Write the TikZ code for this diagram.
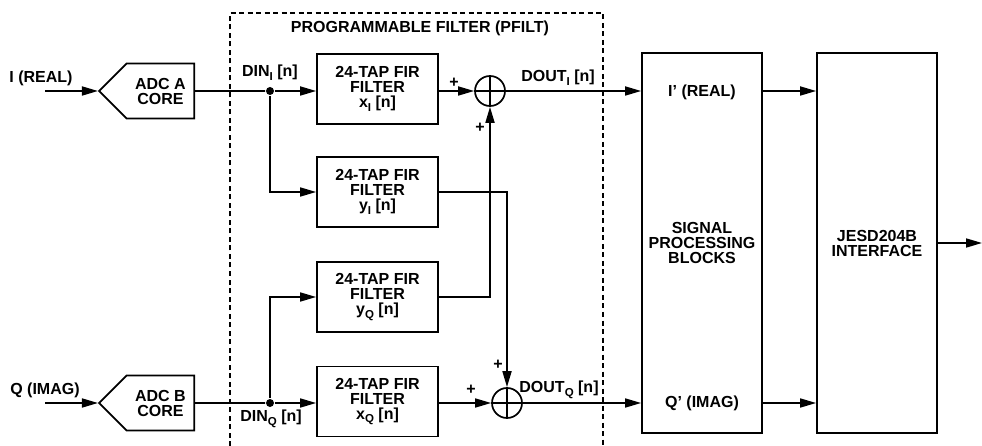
\documentclass[tikz,border=0pt]{standalone}
\usepackage{fontspec}
\setmainfont{Liberation Sans}
\usetikzlibrary{shapes.symbols, arrows.meta, positioning, calc}
\newcommand{\lowsub}[1]{\raisebox{-0.45ex}{\fontsize{11.5}{11}\selectfont #1}}

\begin{document}
\begin{tikzpicture}[
    x=1pt, y=-1pt, line width=1.7pt,
    every node/.style={font=\fontsize{16}{15}\selectfont\bfseries},
    adc/.style={signal, signal to=west, signal pointer angle=90, draw, anchor=east,
                minimum width=95pt, minimum height=55pt, align=center, inner sep=0pt},
    fir/.style={rectangle, draw, minimum width=121pt, minimum height=70pt,
                align=center, inner sep=0pt},
    blk/.style={rectangle, draw, minimum width=120pt, minimum height=380pt, align=center},
    sum/.style={circle, draw, minimum size=30pt, inner sep=0pt,
                path picture={\draw (path picture bounding box.north) -- (path picture bounding box.south)
                              (path picture bounding box.west) -- (path picture bounding box.east);}},
    dot/.style={circle, fill, minimum size=8pt, inner sep=0pt},
    txt/.style={align=center, inner sep=0pt},
    wire/.style={-{Triangle[length=16pt, width=9pt]}}
]
\useasboundingbox (0,0) rectangle (982,446);

\node[txt] (title) at (420,28) {PROGRAMMABLE FILTER (PFILT)};
\draw[dash pattern=on 5pt off 3.5pt] (230,446) -- (230,13) -- (603,13) -- (603,446);

\node[txt] (ilbl) at (41,78)  {I (REAL)};
\node[txt] (qlbl) at (45,390) {Q (IMAG)};
\coordinate (ini) at (45,91);
\coordinate (inq) at (45,403);
\node[adc] (adca) at (195,91)  {ADC A\\CORE};
\node[adc] (adcb) at (195,403) {ADC B\\CORE};

\node[dot] (dini) at (270,91)  {};
\node[dot] (dinq) at (270,403) {};
\node[txt] (dinilbl) at (270,73)  {DIN\lowsub{I} [n]};
\node[txt] (dinqlbl) at (271,419) {DIN\lowsub{Q} [n]};

\node[fir] (fxi) at (377.5,89)    {24-TAP FIR\\FILTER\\x\lowsub{I} [n]};
\node[fir] (fyi) at (377.5,192)   {24-TAP FIR\\FILTER\\y\lowsub{I} [n]};
\node[fir] (fyq) at (377.5,297)   {24-TAP FIR\\FILTER\\y\lowsub{Q} [n]};
\node[fir] (fxq) at (377.5,401.5) {24-TAP FIR\\FILTER\\x\lowsub{Q} [n]};

\node[sum] (sumi) at (490,91)  {};
\node[sum] (sumq) at (507,403) {};
\node[txt] (pia) at (454,83)  {+};
\node[txt] (pib) at (480,128) {+};
\node[txt] (pqa) at (498,365) {+};
\node[txt] (pqb) at (471,390) {+};
\node[txt] (doutilbl) at (558,78)  {DOUT\lowsub{I} [n]};
\node[txt] (doutqlbl) at (559,390) {DOUT\lowsub{Q} [n]};

\node[blk] (spb) at (702,243) {SIGNAL\\PROCESSING\\BLOCKS};
\node[txt] (iprime) at (702,92)  {I' (REAL)};
\node[txt] (qprime) at (702,403) {Q' (IMAG)};
\node[blk] (jesd) at (877,243) {JESD204B\\INTERFACE};
\coordinate (out) at (982,243);

\draw[wire] (ini) -- (adca);
\draw[wire] (inq) -- (adcb);
\draw (adca) -- (dini);
\draw (adcb) -- (dinq);
\draw[wire] (dini) -- (dini -| fxi.west);
\draw[wire] (dini) |- (fyi.west);
\draw[wire] (dinq) |- (fyq.west);
\draw[wire] (dinq) -- (dinq -| fxq.west);
\draw[wire] (fxi.east |- sumi) -- (sumi);
\draw[wire] (fxq.east |- sumq) -- (sumq);
\draw[wire] (fyi.east) -| (sumq.north);
\draw[wire] (fyq.east) -| (sumi.south);
\draw[wire] (sumi) -- (sumi -| spb.west);
\draw[wire] (sumq) -- (sumq -| spb.west);
\draw[wire] (spb.east |- sumi) -- (jesd.west |- sumi);
\draw[wire] (spb.east |- sumq) -- (jesd.west |- sumq);
\draw[wire] (jesd) -- (out);
\end{tikzpicture}
\end{document}
